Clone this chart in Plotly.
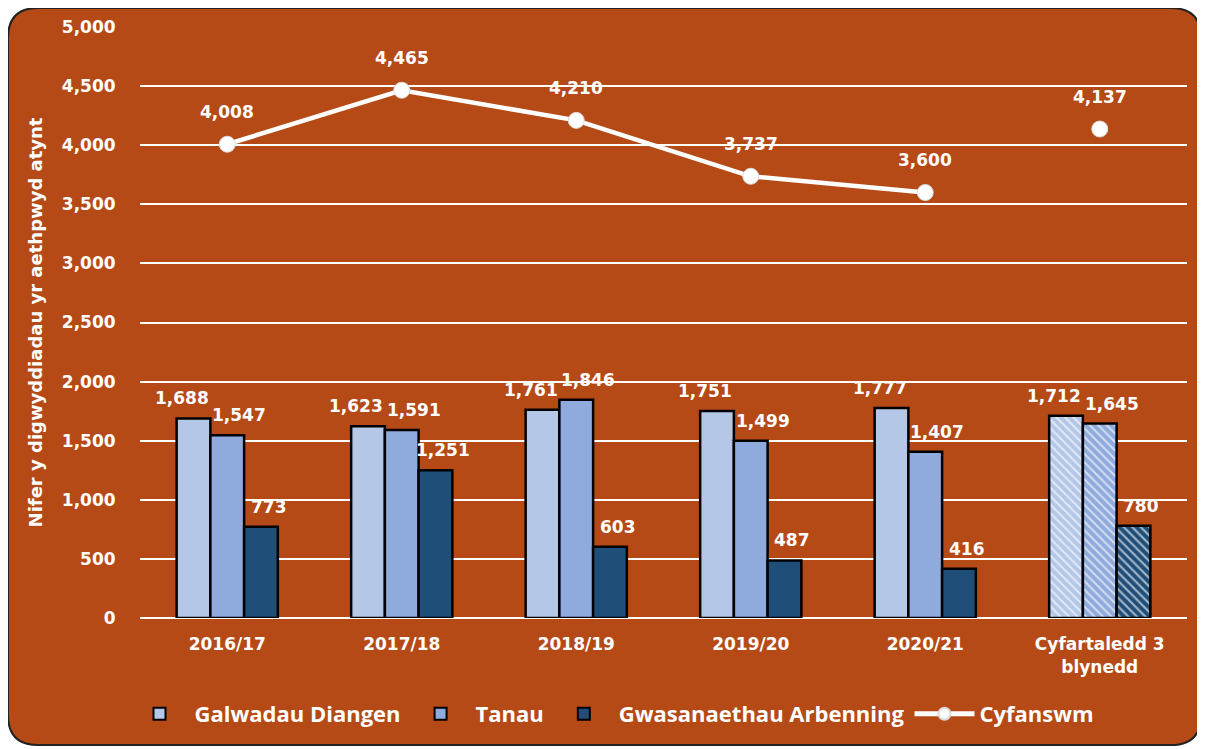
import plotly.graph_objects as go

categories = ["2016/17", "2017/18", "2018/19", "2019/20", "2020/21", "Cyfartaledd 3<br>blynedd"]
galwadau = [1688, 1623, 1761, 1751, 1777, 1712]
tanau = [1547, 1591, 1846, 1499, 1407, 1645]
gwasanaethau = [773, 1251, 603, 487, 416, 780]
cyfanswm = [4008, 4465, 4210, 3737, 3600, 4137]
y_ticks = [0, 500, 1000, 1500, 2000, 2500, 3000, 3500, 4000, 4500, 5000]

# the page body has an 8px margin; work in screen pixels and convert
S = 8
W, H = 1205 - S, 749 - S
PL, PR, PT, PB = 140, 1187, 27, 618          # plot area in screen pixels
ML, MR, MT, MB = PL - S, W - (PR - S), PT - S, H - (PB - S)
PW, PH = W - ML - MR, H - MT - MB
BG = "#B54A17"
BARGAP = 0.42

def px2x(px):
    return (px - PL) / PW

def py2y(py):
    return (PB - py) / PH

fig = go.Figure()
lbl_font = dict(family="DejaVu Sans", size=17, color="white", weight="bold")
tick_font = dict(family="DejaVu Sans", size=17, color="white", weight="bold")

series = [
    ("Galwadau Diangen", galwadau, "#B4C7E7", -12),
    ("Tanau", tanau, "#8FAADC", 12),
    ("Gwasanaethau Arbenning", gwasanaethau, "#1F4E79", 8),
]
slot = PW / len(categories) * (1 - BARGAP) / len(series)

for i, (name, vals, color, dx) in enumerate(series):
    shapes = [""] * (len(vals) - 1) + ["\\"]
    fig.add_trace(go.Bar(
        x=categories, y=vals, name=name,
        marker=dict(color=color, line=dict(color="black", width=2.5),
                    pattern=dict(shape=shapes, fillmode="overlay", fgcolor="white",
                                 fgopacity=0.6, size=6, solidity=0.35)),
    ))
    off = (i - 1) * slot + dx
    for c, v in zip(categories, vals):
        fig.add_annotation(x=c, y=v, text=f"{v:,}", showarrow=False,
                           xshift=off, yshift=20, yanchor="middle", font=lbl_font)

fig.add_trace(go.Scatter(
    x=categories[:-1], y=cyfanswm[:-1], name="Cyfanswm", mode="lines+markers",
    line=dict(color="white", width=4.5),
    marker=dict(color="white", size=16, line=dict(color="#D9D9D9", width=1)),
    cliponaxis=False,
))
fig.add_trace(go.Scatter(
    x=categories[-1:], y=cyfanswm[-1:], name="Cyfanswm", mode="markers",
    marker=dict(color="white", size=16, line=dict(color="#D9D9D9", width=1)),
    showlegend=False, cliponaxis=False,
))

for c, v in zip(categories, cyfanswm):
    fig.add_annotation(x=c, y=v, text=f"{v:,}", showarrow=False, yshift=32,
                       yanchor="middle", font=lbl_font)

r = 30
x0, x1 = px2x(8), px2x(1201)
y0, y1 = py2y(8), py2y(745)
rx = r / PW
ry = r / PH
path = (f"M {x0+rx},{y0} L {x1-rx},{y0} Q {x1},{y0} {x1},{y0-ry} "
        f"L {x1},{y1+ry} Q {x1},{y1} {x1-rx},{y1} "
        f"L {x0+rx},{y1} Q {x0},{y1} {x0},{y1+ry} "
        f"L {x0},{y0-ry} Q {x0},{y0} {x0+rx},{y0} Z")
fig.add_shape(type="path", path=path, xref="paper", yref="paper",
              fillcolor=BG, line=dict(color="#222222", width=2), layer="below")

fig.update_layout(
    width=W, height=H,
    margin=dict(l=ML, r=MR, t=MT, b=MB, autoexpand=False),
    paper_bgcolor="white", plot_bgcolor="rgba(0,0,0,0)",
    barmode="group", bargap=BARGAP, bargroupgap=0,
    showlegend=True,
    legend=dict(orientation="h", x=px2x(612), xanchor="center", y=py2y(714), yanchor="middle",
                font=dict(family="Open Sans", size=22, color="white", weight="bold"),
                bgcolor="rgba(0,0,0,0)", traceorder="normal", itemsizing="constant",
                itemwidth=60),
    xaxis=dict(showgrid=False, showline=False, zeroline=False,
               tickfont=tick_font,
               ticks="outside", ticklen=11, tickcolor="rgba(0,0,0,0)"),
    yaxis=dict(range=[0, 5000], tickvals=y_ticks, tickformat=",",
               showgrid=True, gridcolor="white", gridwidth=2,
               zeroline=True, zerolinecolor="white", zerolinewidth=2,
               showline=False,
               tickfont=tick_font,
               ticks="outside", ticklen=20, tickcolor="rgba(0,0,0,0)",
               title=dict(text="Nifer y digwyddiadau yr aethpwyd atynt", standoff=14,
                          font=dict(family="DejaVu Sans", size=18, color="white", weight="bold"))),
)

fig.write_html("out.html")
